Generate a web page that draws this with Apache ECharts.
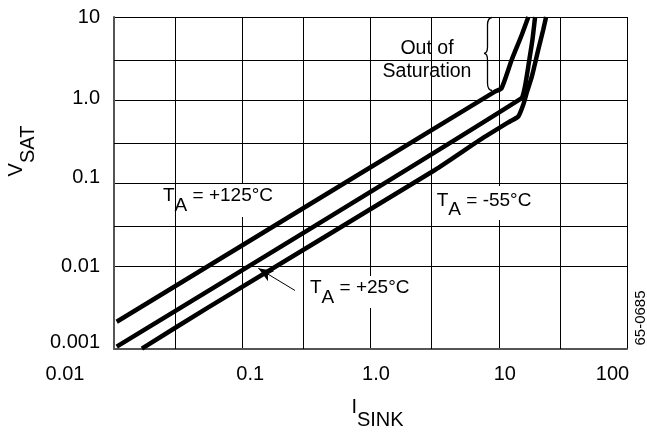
<!DOCTYPE html>
<html>
<head>
<meta charset="utf-8">
<script src="https://cdn.jsdelivr.net/npm/echarts@6/dist/echarts.min.js"></script>
<style>html,body{margin:0;padding:0;background:#fff}#c{width:647px;height:435px}</style>
</head>
<body>
<div id="c"></div>
<script>
// ---- data ----
const xTickLabels = ['0.01', '0.1', '1.0', '10', '100'];
const yTickLabels = ['0.001', '0.01', '0.1', '1.0', '10'];
const minorX = [0.03, 0.3, 3, 30];
const minorY = [0.003, 0.03, 0.3, 3];

// T_A = +125°C
const iA = [0.0105, 9.33, 10.5, 12.6, 15.1, 17.0];
const vA = [0.00213, 1.26, 1.38, 3.03, 6.07, 10];
// T_A = +25°C
const iB = [0.0105, 14.9, 16.0, 17.3, 18.3, 19.2];
const vB = [0.00107, 1.04, 1.45, 3.03, 5.28, 10];
// T_A = -55°C
const iC = [0.0165, 0.0528, 3.18, 7.14, 12.2, 14.2, 15.5, 16.6, 18.1, 20.3, 22.2, 23.4];
const vC = [0.00101, 0.00309, 0.1434, 0.330, 0.551, 0.633, 0.871, 1.25, 1.91, 4.0, 6.97, 10];

// arrow of the +25°C label (tail, tip)
const arrowI = [0.2577, 0.1334];
const arrowV = [0.00507, 0.00938];

const FONT = '"Liberation Sans", Arial, Helvetica, sans-serif';

function pairs(xs, ys) { return xs.map((x, i) => [x, ys[i]]); }

const chart = echarts.init(document.getElementById('c'), null, { renderer: 'canvas' });

const xRich = {
  p0: { fontSize: 20, fontFamily: FONT, color: '#000', padding: [0, 98, 0, 0] },
  p1: { fontSize: 20, fontFamily: FONT, color: '#000', padding: [0, 0, 0, 16] },
  p2: { fontSize: 20, fontFamily: FONT, color: '#000', padding: [0, 0, 0, 11] },
  p3: { fontSize: 20, fontFamily: FONT, color: '#000', padding: [0, 0, 0, 12] },
  p4: { fontSize: 20, fontFamily: FONT, color: '#000', padding: [0, 29, 0, 0] }
};
const yRich = {
  q0: { fontSize: 20, fontFamily: FONT, color: '#000', padding: [0, 0, 14, 0] },
  q1: { fontSize: 20, fontFamily: FONT, color: '#000', padding: [0, 0, 0, 0] },
  q2: { fontSize: 20, fontFamily: FONT, color: '#000', padding: [0, 0, 12, 0] },
  q3: { fontSize: 20, fontFamily: FONT, color: '#000', padding: [0, 0, 4, 0] },
  q4: { fontSize: 20, fontFamily: FONT, color: '#000', padding: [0, 0, 0, 0] }
};

const curveStyle = { color: '#000', width: 4.5 };

const subRich = (fs, shift) => ({
  t: { fontSize: fs, fontFamily: FONT, color: '#000', lineHeight: 20, verticalAlign: 'top' },
  s: { fontSize: fs, fontFamily: FONT, color: '#000', lineHeight: 20, verticalAlign: 'top', padding: [shift, 0, 0, 0] }
});

const braceStyle = { fill: 'none', stroke: '#000', lineWidth: 1.3 };

const option = {
  animation: false,
  backgroundColor: '#fff',
  grid: { left: 114, right: 20, top: 17, bottom: 86, containLabel: false },
  xAxis: {
    type: 'log', logBase: 10, min: 0.01, max: 100,
    axisLine: { show: true, lineStyle: { color: '#555', width: 2 } },
    axisTick: { show: false },
    splitLine: { show: true, lineStyle: { color: '#000', width: 1 } },
    axisLabel: {
      margin: 15, fontSize: 20, fontFamily: FONT, color: '#000',
      formatter: v => { const i = Math.round(Math.log10(v)) + 2; return '{p' + i + '|' + xTickLabels[i] + '}'; },
      rich: xRich
    }
  },
  yAxis: {
    type: 'log', logBase: 10, min: 0.001, max: 10,
    axisLine: { show: true, lineStyle: { color: '#555', width: 2 } },
    axisTick: { show: false },
    splitLine: { show: true, lineStyle: { color: '#000', width: 1 } },
    axisLabel: {
      margin: 14, fontSize: 20, fontFamily: FONT, color: '#000',
      formatter: v => { const i = Math.round(Math.log10(v)) + 3; return '{q' + i + '|' + yTickLabels[i] + '}'; },
      rich: yRich
    }
  },
  series: [
    {
      name: 'grid3', type: 'line', z: 1, silent: true, symbol: 'none',
      data: [[0.01, 0.001]], lineStyle: { opacity: 0 },
      markLine: {
        silent: true, symbol: ['none', 'none'], label: { show: false }, animation: false,
        lineStyle: { color: '#000', width: 1, type: 'solid' },
        emphasis: { disabled: true },
        data: minorX.map(v => ({ xAxis: v })).concat(minorY.map(v => ({ yAxis: v })))
      }
    },
    { name: '+125', type: 'line', z: 5, symbol: 'none', smooth: 0.2, lineStyle: curveStyle, data: pairs(iA, vA) },
    {
      name: '+25', type: 'line', z: 5, symbol: 'none', smooth: 0.2, lineStyle: curveStyle, data: pairs(iB, vB),
      markLine: {
        silent: true, animation: false, label: { show: false },
        symbol: ['none', 'arrow'], symbolSize: [9, 15],
        lineStyle: { color: '#000', width: 1, type: 'solid' },
        emphasis: { disabled: true },
        data: [[{ coord: [arrowI[0], arrowV[0]] }, { coord: [arrowI[1], arrowV[1]] }]]
      }
    },
    { name: '-55', type: 'line', z: 5, symbol: 'none', smooth: 0.2, lineStyle: curveStyle, data: pairs(iC, vC) }
  ],
  graphic: [
    // white masks behind annotation text
    { type: 'rect', z: 2, silent: true, shape: { x: 160, y: 184, width: 120, height: 33 }, style: { fill: '#fff' } },
    { type: 'rect', z: 2, silent: true, shape: { x: 428, y: 186, width: 112, height: 34 }, style: { fill: '#fff' } },
    { type: 'rect', z: 2, silent: true, shape: { x: 309, y: 276, width: 110, height: 32 }, style: { fill: '#fff' } },
    { type: 'rect', z: 2, silent: true, shape: { x: 378, y: 32, width: 99, height: 54 }, style: { fill: '#fff' } },
    // labels
    { type: 'text', z: 6, silent: true, x: 163, y: 186.5,
      style: { text: '{t|T}{s|A}{t| = +125°C}', rich: subRich(19, 9.5), align: 'left', verticalAlign: 'top' } },
    { type: 'text', z: 6, silent: true, x: 436.7, y: 191.5,
      style: { text: '{t|T}{s|A}{t| = -55°C}', rich: subRich(19, 9), align: 'left', verticalAlign: 'top' } },
    { type: 'text', z: 6, silent: true, x: 310, y: 277.8,
      style: { text: '{t|T}{s|A}{t| = +25°C}', rich: subRich(19, 10), align: 'left', verticalAlign: 'top' } },
    { type: 'text', z: 6, silent: true, x: 427, y: 48.5,
      style: { text: 'Out of', font: '19.5px ' + FONT, fill: '#000', align: 'center', verticalAlign: 'middle' } },
    { type: 'text', z: 6, silent: true, x: 427, y: 71.5,
      style: { text: 'Saturation', font: '19.5px ' + FONT, fill: '#000', align: 'center', verticalAlign: 'middle' } },
    // brace
    { type: 'bezierCurve', z: 6, silent: true, shape: { x1: 492, y1: 17.5, cpx1: 487.5, cpy1: 18, x2: 487.5, y2: 25 }, style: braceStyle },
    { type: 'line', z: 6, silent: true, shape: { x1: 487.5, y1: 25, x2: 487.5, y2: 47 }, style: braceStyle },
    { type: 'bezierCurve', z: 6, silent: true, shape: { x1: 487.5, y1: 47, cpx1: 487.5, cpy1: 53.3, x2: 484, y2: 53.3 }, style: braceStyle },
    { type: 'bezierCurve', z: 6, silent: true, shape: { x1: 484, y1: 53.3, cpx1: 487.5, cpy1: 53.3, x2: 487.5, y2: 60 }, style: braceStyle },
    { type: 'line', z: 6, silent: true, shape: { x1: 487.5, y1: 60, x2: 487.5, y2: 83 }, style: braceStyle },
    { type: 'bezierCurve', z: 6, silent: true, shape: { x1: 487.5, y1: 83, cpx1: 487.5, cpy1: 90, x2: 492, y2: 90.5 }, style: braceStyle },
    // axis names
    { type: 'text', z: 6, silent: true, x: 6, y: 151, rotation: Math.PI / 2,
      style: { text: '{t|V}{s|SAT}', rich: subRich(20, 12.5), align: 'center', verticalAlign: 'top' } },
    { type: 'text', z: 6, silent: true, x: 377.5, y: 397.7,
      style: { text: '{t|I}{s|SINK}', rich: subRich(20, 12.5), align: 'center', verticalAlign: 'top' } },
    // figure code
    { type: 'text', z: 6, silent: true, x: 641, y: 318, rotation: Math.PI / 2,
      style: { text: '65-0685', font: '15px ' + FONT, fill: '#000', align: 'center', verticalAlign: 'middle' } }
  ]
};
chart.setOption(option);
</script>
</body>
</html>
